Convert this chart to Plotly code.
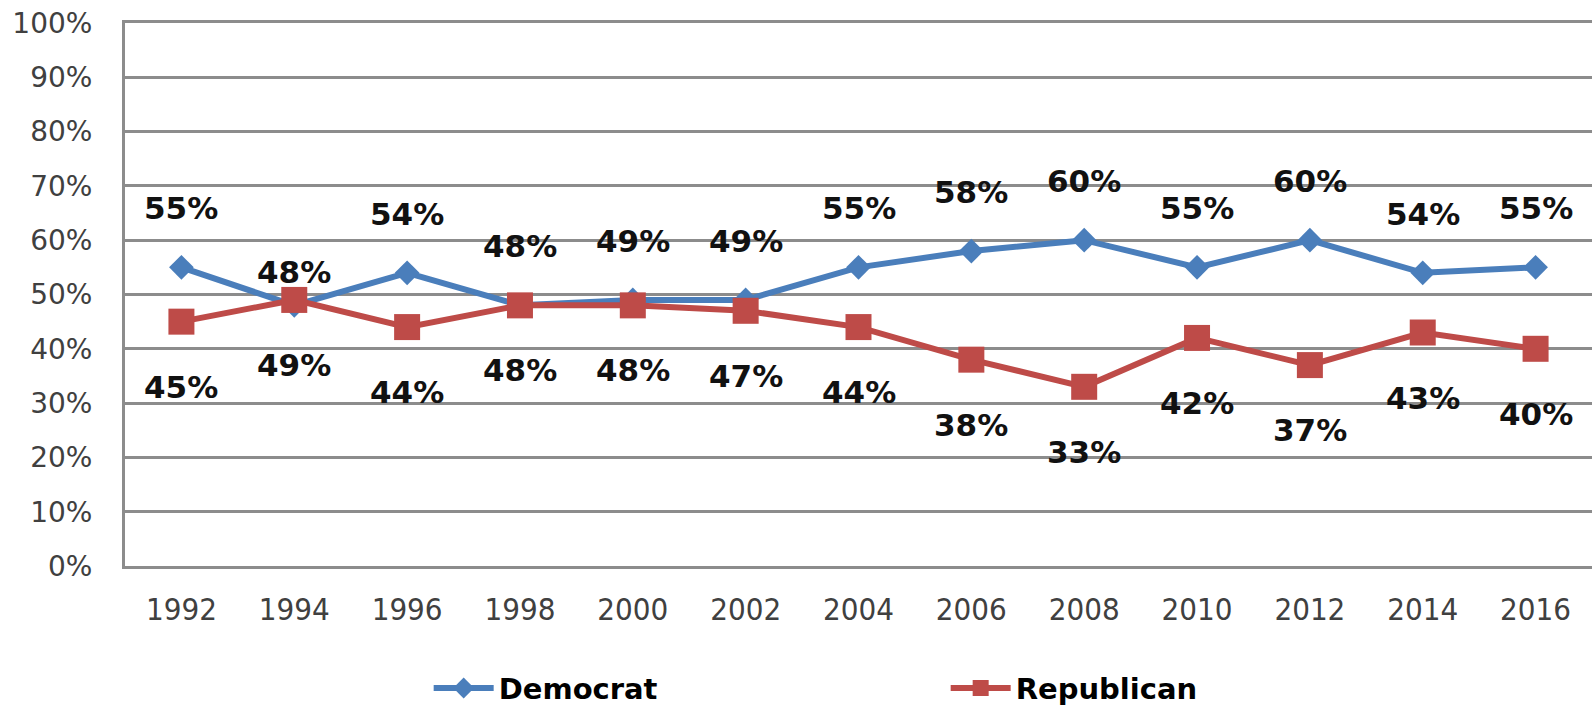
import plotly.graph_objects as go

years = ["1992", "1994", "1996", "1998", "2000", "2002", "2004", "2006", "2008", "2010", "2012", "2014", "2016"]
democrat = [55, 48, 54, 48, 49, 49, 55, 58, 60, 55, 60, 54, 55]
republican = [45, 49, 44, 48, 48, 47, 44, 38, 33, 42, 37, 43, 40]
y_ticks = list(range(0, 101, 10))
y_tick_labels = [f"{v}%" for v in y_ticks]

BLUE = "#4A7EBB"
RED = "#BE4B48"
GRID = "#8C8C8C"

fig = go.Figure()
fig.add_trace(go.Scatter(
    x=years, y=democrat, name="Democrat", mode="lines+markers",
    line=dict(color=BLUE, width=6),
    marker=dict(symbol="diamond", size=19, color=BLUE),
))
fig.add_trace(go.Scatter(
    x=years, y=republican, name="Republican", mode="lines+markers",
    line=dict(color=RED, width=6),
    marker=dict(symbol="square", size=26, color=RED),
))

label_font = dict(family="DejaVu Sans, sans-serif", size=31, color="#111111")
annotations = []
for i, (yr, v) in enumerate(zip(years, democrat)):
    shift = 33 if yr == "1994" else 59
    annotations.append(dict(x=i, y=v, text=f"<b>{v}%</b>", showarrow=False,
                            yshift=shift, font=label_font, xref="x", yref="y"))
for i, (yr, v) in enumerate(zip(years, republican)):
    annotations.append(dict(x=i, y=v, text=f"<b>{v}%</b>", showarrow=False,
                            yshift=-65, font=label_font, xref="x", yref="y"))

fig.update_layout(
    width=1592, height=707,
    margin=dict(l=125, r=0, t=23, b=141, autoexpand=False),
    paper_bgcolor="white", plot_bgcolor="white",
    showlegend=True,
    legend=dict(orientation="h", x=0.207, xanchor="left", y=-0.178, yanchor="top",
                entrywidth=442, entrywidthmode="pixels",
                font=dict(family="DejaVu Sans, sans-serif", size=29, color="#000000", weight="bold"),
                itemwidth=60),
    annotations=annotations,
)
fig.update_xaxes(
    type="category", range=[-0.5, 12.5],
    showgrid=False, showline=True, mirror=True, linecolor=GRID, linewidth=2.5,
    zeroline=False,
    ticks="", ticklabelstandoff=14,
    tickfont=dict(family="DejaVu Sans Condensed, DejaVu Sans, sans-serif", size=31, color="#404040"),
)
fig.update_yaxes(
    range=[0, 100], tickvals=y_ticks, ticktext=y_tick_labels,
    showgrid=True, gridcolor=GRID, gridwidth=2.5,
    showline=True, linecolor=GRID, linewidth=3,
    zeroline=False, ticks="", ticklabelstandoff=24,
    tickfont=dict(family="DejaVu Sans, sans-serif", size=28, color="#404040"),
)

fig.write_html("out.html", config={"displayModeBar": False},
               post_script="document.body.style.margin='0px';")
